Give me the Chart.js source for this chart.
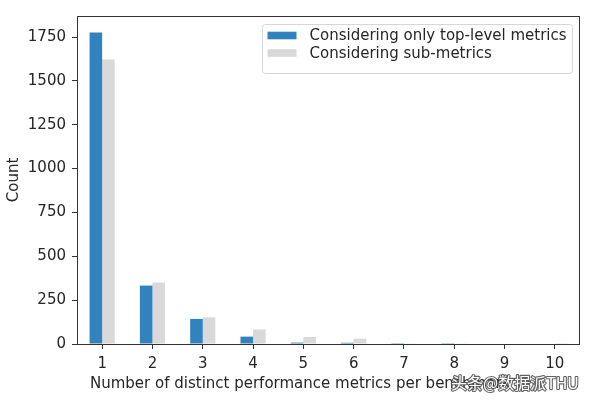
<!DOCTYPE html>
<html>
<head>
<meta charset="utf-8">
<script src="https://cdn.jsdelivr.net/npm/chart.js@4/dist/chart.umd.min.js"></script>
<style>
  html, body { margin: 0; padding: 0; background: #fff; }
  #myChart { display: block; }
</style>
</head>
<body>
<canvas id="myChart" width="597" height="402"></canvas>
<script>
const categories = ['1', '2', '3', '4', '5', '6', '7', '8', '9', '10'];
const topLevel = [1776, 333, 143, 42, 8, 7, 1, 1, 0, 0];
const subMetrics = [1622, 350, 152, 83, 40, 30, 4, 4, 3, 1];
const yTicks = [0, 250, 500, 750, 1000, 1250, 1500, 1750];
const xTitle = 'Number of distinct performance metrics per benchmark';

const FONT = { family: 'DejaVu Sans', size: 15 };
const INK = '#262626';

// axes frame on all four sides
const framePlugin = {
  id: 'frame',
  afterDatasetsDraw(chart) {
    const { ctx, chartArea: a } = chart;
    ctx.save();
    ctx.strokeStyle = '#333';
    ctx.lineWidth = 1;
    ctx.strokeRect(a.left + 0.5, a.top + 0.5, a.width - 1, a.height);
    ctx.restore();
  },
};

// matplotlib-like legend in the upper right of the axes
const legendPlugin = {
  id: 'innerLegend',
  afterDraw(chart) {
    const { ctx, chartArea: a } = chart;
    const w = 310, h = 49;
    const x = a.right - 8 - w, y = a.top + 8;
    ctx.save();
    ctx.fillStyle = 'rgba(255,255,255,0.8)';
    ctx.strokeStyle = '#d6d6d6';
    ctx.lineWidth = 1;
    ctx.beginPath();
    ctx.roundRect(x + 0.5, y + 0.5, w, h, 3);
    ctx.fill();
    ctx.stroke();
    ctx.font = FONT.size + 'px ' + FONT.family;
    ctx.textBaseline = 'middle';
    chart.data.datasets.forEach((ds, i) => {
      const cy = y + 11.5 + i * 17.5;
      ctx.fillStyle = ds.backgroundColor;
      ctx.fillRect(x + 5.5, cy - 3.8, 29, 7.6);
      ctx.fillStyle = INK;
      ctx.fillText(ds.label, x + 47.5, cy + 1);
    });
    ctx.restore();
  },
};

// x label (sits a little left of the axes centre in the source) + watermark
const labelsPlugin = {
  id: 'labels',
  afterDraw(chart) {
    const { ctx, chartArea: a } = chart;
    ctx.save();
    ctx.font = FONT.size + 'px ' + FONT.family;
    ctx.textBaseline = 'middle';
    ctx.fillStyle = INK;
    ctx.fillText(xTitle, a.left + 13, 384.5);

    ctx.font = '16px "Noto Sans CJK SC"';
    ctx.lineJoin = 'round';
    ctx.strokeStyle = 'rgba(70,70,70,0.85)';
    ctx.lineWidth = 2.2;
    ctx.strokeText('头条@数据派THU', 451, 383);
    ctx.fillStyle = '#fff';
    ctx.fillText('头条@数据派THU', 451, 383);
    ctx.restore();
  },
};

const ctx = document.getElementById('myChart').getContext('2d');

// eslint-disable-next-line no-undef, no-unused-vars
const chart = new Chart(ctx, {
  type: 'bar',
  data: {
    labels: categories,
    datasets: [
      {
        label: 'Considering only top-level metrics',
        backgroundColor: '#3182bd',
        data: topLevel,
        barPercentage: 1.0,
        categoryPercentage: 0.5,
      },
      {
        label: 'Considering sub-metrics',
        backgroundColor: '#d9d9d9',
        data: subMetrics,
        barPercentage: 1.0,
        categoryPercentage: 0.5,
      },
    ],
  },
  options: {
    responsive: false,
    animation: false,
    devicePixelRatio: 1,
    layout: { padding: { top: 16, right: 17, left: 0, bottom: 0 } },
    plugins: {
      legend: { display: false },
      tooltip: { enabled: false },
    },
    scales: {
      x: {
        offset: true,
        border: { display: false },
        grid: {
          offset: false,
          drawOnChartArea: false,
          drawTicks: true,
          tickLength: 5,
          color: '#333',
        },
        ticks: { color: INK, font: FONT, padding: 6, maxRotation: 0 },
        afterFit(axis) { axis.height = 58; },
      },
      y: {
        min: 0,
        max: 1870,
        border: { display: false },
        grid: {
          drawOnChartArea: false,
          drawTicks: true,
          tickLength: 5,
          color: '#333',
        },
        ticks: { color: INK, font: FONT, padding: 6, callback: v => String(v) },
        afterBuildTicks(axis) { axis.ticks = yTicks.map(v => ({ value: v })); },
        title: {
          display: true,
          text: 'Count',
          color: INK,
          font: FONT,
          padding: { top: 5, bottom: 5 },
        },
        afterFit(axis) { axis.width = 77; },
      },
    },
  },
  plugins: [framePlugin, legendPlugin, labelsPlugin],
});
</script>
</body>
</html>
